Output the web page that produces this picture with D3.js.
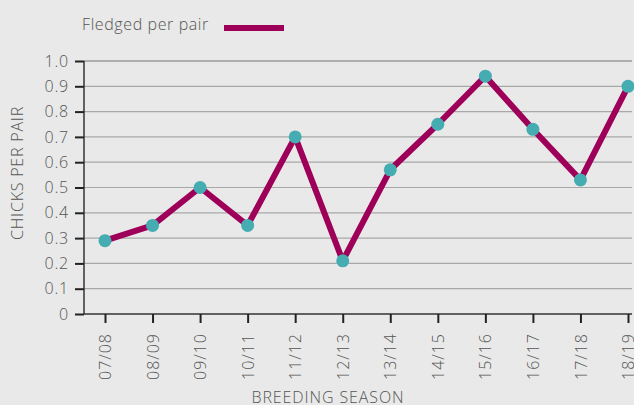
<!DOCTYPE html>
<head>
<meta charset="UTF-8">
<script src="https://d3js.org/d3.v7.min.js"></script>
<style>
  body { margin: 0; background: #e8e9e8; }
  text { font-family: "Open Sans", Lato, sans-serif; font-weight: 300; fill: #555; }
</style>
</head>
<body>
<svg></svg>
<script>
var width = 634, height = 405;

var seasons = ["07/08","08/09","09/10","10/11","11/12","12/13","13/14","14/15","15/16","16/17","17/18","18/19"];
var fledged = [0.29, 0.35, 0.50, 0.35, 0.70, 0.21, 0.57, 0.75, 0.94, 0.73, 0.53, 0.90];
var yTicks = [0, 0.1, 0.2, 0.3, 0.4, 0.5, 0.6, 0.7, 0.8, 0.9, 1.0];

var svg = d3.select("svg").attr("width", width).attr("height", height);

svg.append("rect").attr("width", width).attr("height", height).attr("fill", "#e8e9e8");

var x = d3.scalePoint().domain(seasons).range([105, 628]);
var y = d3.scaleLinear().domain([0, 1]).range([314, 61]);

// grid lines
svg.append("g").selectAll("line")
  .data(yTicks.filter(d => d > 0))
  .enter().append("line")
  .attr("x1", 84).attr("x2", 632)
  .attr("y1", d => y(d)).attr("y2", d => y(d))
  .attr("stroke", d => d === 1 ? "#9a9a9a" : "#a8a8a8")
  .attr("stroke-width", d => d === 1 ? 1.6 : 1.2);

// y axis
var yAxis = d3.axisLeft(y).tickValues(yTicks).tickSize(9).tickPadding(6)
  .tickFormat(d => d === 0 ? "0" : d3.format(".1f")(d));
var gy = svg.append("g").attr("transform", "translate(84,0)").call(yAxis);
gy.select(".domain").attr("stroke", "#333").attr("stroke-width", 1.5).attr("d", "M0,61V314");
gy.selectAll(".tick line").attr("stroke", "#222").attr("stroke-width", 2);
gy.selectAll(".tick text").style("font-size", "16px").style("letter-spacing", "0.8px").attr("fill", "#555");

// x axis
var xAxis = d3.axisBottom(x).tickSize(9).tickPadding(8);
var gx = svg.append("g").attr("transform", "translate(0,314)").call(xAxis);
gx.select(".domain").attr("stroke", "#333").attr("stroke-width", 1.5).attr("d", "M84,0H632");
gx.selectAll(".tick line").attr("stroke", "#222").attr("stroke-width", 2);
gx.selectAll(".tick text")
  .style("font-size", "16px").style("letter-spacing", "1px").attr("fill", "#555")
  .attr("text-anchor", "end")
  .attr("transform", "rotate(-90)")
  .attr("x", -19).attr("y", 0).attr("dy", "0.35em");

// line
var line = d3.line().x((d, i) => x(seasons[i])).y(d => y(d));
svg.append("path").datum(fledged)
  .attr("d", line)
  .attr("fill", "none")
  .attr("stroke", "#9e0059")
  .attr("stroke-width", 6)
  .attr("stroke-linejoin", "round");

svg.append("g").selectAll("circle")
  .data(fledged).enter().append("circle")
  .attr("cx", (d, i) => x(seasons[i]))
  .attr("cy", d => y(d))
  .attr("r", 6.5)
  .attr("fill", "#45adb1");

// labels
svg.append("text").attr("x", 328).attr("y", 403).attr("text-anchor", "middle")
  .style("font-size", "16px").style("letter-spacing", "0.9px").text("BREEDING SEASON");
svg.append("text").attr("transform", "translate(23,173) rotate(-90)").attr("text-anchor", "middle")
  .style("font-size", "16px").style("letter-spacing", "0.8px").text("CHICKS PER PAIR");

// legend
svg.append("text").attr("x", 82).attr("y", 30).style("font-size", "16px").style("letter-spacing", "0.6px").text("Fledged per pair");
svg.append("line").attr("x1", 224).attr("x2", 284).attr("y1", 28).attr("y2", 28)
  .attr("stroke", "#9e0059").attr("stroke-width", 6);
</script>
</body>
